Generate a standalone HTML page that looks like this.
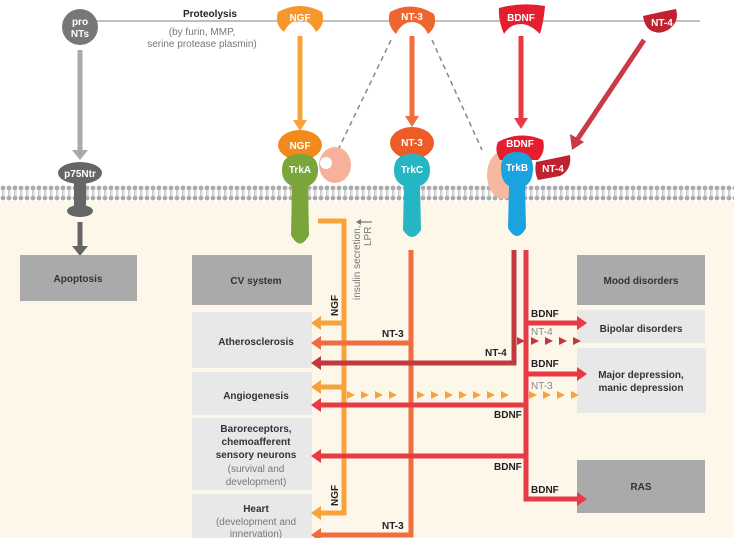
<!DOCTYPE html>
<html><head><meta charset="utf-8"><style>
body{margin:0;background:#fff;}
svg{display:block;font-family:"Liberation Sans",sans-serif;}
.b{font-weight:bold;font-size:10px;fill:#222;}
.w{font-weight:bold;font-size:10px;fill:#fff;text-anchor:middle;}
.bx{font-weight:bold;font-size:10px;fill:#333;text-anchor:middle;}
.g{font-size:10px;fill:#777;text-anchor:middle;}
</style></head><body>
<svg width="734" height="538" viewBox="0 0 734 538">
<defs>
<pattern id="mem" x="0" y="185" width="6" height="16" patternUnits="userSpaceOnUse">
<rect width="6" height="16" fill="#fff"/>
<circle cx="3" cy="3" r="2.4" fill="#aaa"/>
<circle cx="3" cy="13" r="2.4" fill="#aaa"/>
<rect x="2" y="4" width="0.8" height="8" fill="#bbb"/>
<rect x="3.6" y="4" width="0.8" height="8" fill="#bbb"/>
</pattern>
</defs>
<rect x="0" y="200" width="734" height="338" fill="#fdf7ea"/>
<rect x="0" y="185" width="734" height="16" fill="url(#mem)"/>
<line x1="95" y1="21" x2="700" y2="21" stroke="#aaa" stroke-width="1.5"/>
<circle cx="80" cy="27" r="18" fill="#777"/>
<text x="80" y="25" class="w">pro</text><text x="80" y="37" class="w">NTs</text>
<text x="183" y="17" class="b">Proteolysis</text>
<text x="202" y="35" class="g">(by furin, MMP,</text>
<text x="202" y="47" class="g">serine protease plasmin)</text>
<line x1="80" y1="50" x2="80" y2="152" stroke="#aaa" stroke-width="5"/>
<polygon points="72,150 88,150 80,160" fill="#aaa"/>
<ellipse cx="80" cy="173" rx="22" ry="11" fill="#666"/>
<text x="80" y="177" class="w">p75Ntr</text>
<rect x="74" y="180" width="12" height="28" fill="#666"/>
<ellipse cx="80" cy="211" rx="13" ry="6" fill="#666"/>
<line x1="80" y1="222" x2="80" y2="248" stroke="#666" stroke-width="5"/>
<polygon points="72,246 88,246 80,256" fill="#666"/>
<rect x="20" y="255" width="117" height="46" fill="#aaa"/>
<text x="78" y="282" class="bx">Apoptosis</text>
<line x1="338" y1="150" x2="392" y2="38" stroke="#888" stroke-width="1.5" stroke-dasharray="5,4"/>
<line x1="432" y1="40" x2="482" y2="150" stroke="#888" stroke-width="1.5" stroke-dasharray="5,4"/>
<path d="M278,12 Q300,0 322,12 Q326,24 316,32 Q310,20 300,20 Q290,20 284,32 Q274,24 278,12Z" fill="#f7962b"/>
<text x="300" y="21" class="w">NGF</text>
<path d="M390,12 Q412,0 434,14 Q438,26 428,34 Q422,22 412,22 Q402,22 396,34 Q386,24 390,12Z" fill="#ef6530"/>
<text x="412" y="20" class="w">NT-3</text>
<path d="M499,8 Q521,2 545,6 Q544,20 540,34 Q530,24 521,24 Q510,24 504,34 Q498,20 499,8Z" fill="#e41e2f"/>
<text x="521" y="21" class="w">BDNF</text>
<path d="M643,16 Q660,12 676,9 Q680,22 668,30 Q660,34 655,32 Q645,30 643,16Z" fill="#c0232f"/>
<text x="662" y="26" class="w">NT-4</text>
<line x1="300" y1="36" x2="300" y2="122" stroke="#f7a33b" stroke-width="5"/>
<polygon points="293,120 307,120 300,131" fill="#f7a33b"/>
<line x1="412" y1="36" x2="412" y2="118" stroke="#ef6e40" stroke-width="5"/>
<polygon points="405,116 419,116 412,127" fill="#ef6e40"/>
<line x1="521" y1="36" x2="521" y2="120" stroke="#e83a44" stroke-width="5"/>
<polygon points="514,118 528,118 521,129" fill="#e83a44"/>
<line x1="644" y1="40" x2="577" y2="140" stroke="#c93a44" stroke-width="5"/>
<polygon points="570,134 584,142 572,150" fill="#c93a44"/>
<ellipse cx="335" cy="165" rx="16" ry="18" fill="#f7b09a"/>
<circle cx="326" cy="163" r="6" fill="#fff"/>
<ellipse cx="300" cy="145" rx="22" ry="15" fill="#f28a1b"/>
<text x="300" y="149" class="w">NGF</text>
<path d="M282,170 Q282,154 300,154 Q318,154 318,170 Q318,182 308,186 L309,235 Q300,252 291,235 L292,186 Q282,182 282,170Z" fill="#79a53b"/>
<text x="300" y="173" class="w">TrkA</text>
<ellipse cx="412" cy="143" rx="22" ry="16" fill="#ed5b26"/>
<text x="412" y="146" class="w">NT-3</text>
<path d="M394,170 Q394,154 412,154 Q430,154 430,170 Q430,182 420,186 L421,230 Q412,244 403,230 L404,186 Q394,182 394,170Z" fill="#25b5c3"/>
<text x="412" y="173" class="w">TrkC</text>
<ellipse cx="503" cy="175" rx="16" ry="24" fill="#f6b8a0"/>
<path d="M498,142 Q520,130 543,140 Q546,152 538,160 L500,160 Q494,150 498,142Z" fill="#e41e2f"/>
<text x="520" y="147" class="w">BDNF</text>
<path d="M501,168 Q501,152 517,152 Q533,152 533,168 Q533,182 525,186 L526,228 Q517,244 508,228 L509,186 Q501,182 501,168Z" fill="#1ba3e0"/>
<text x="517" y="171" class="w">TrkB</text>
<path d="M536,162 Q556,158 570,155 Q572,170 560,176 L538,180 Q534,172 536,162Z" fill="#c0232f"/>
<text x="553" y="172" class="w">NT-4</text>
<g fill="#e8e8e8">
<rect x="192" y="312" width="120" height="56"/>
<rect x="192" y="372" width="120" height="43"/>
<rect x="192" y="418" width="120" height="72"/>
<rect x="192" y="494" width="120" height="44"/>
<rect x="577" y="310" width="128" height="33"/>
<rect x="577" y="348" width="129" height="65"/>
</g>
<g fill="#aaa">
<rect x="192" y="255" width="120" height="50"/>
<rect x="577" y="255" width="128" height="50"/>
<rect x="577" y="460" width="128" height="53"/>
</g>
<text x="256" y="284" class="bx">CV system</text>
<text x="256" y="345" class="bx">Atherosclerosis</text>
<text x="256" y="399" class="bx">Angiogenesis</text>
<text x="256" y="432" class="bx">Baroreceptors,</text>
<text x="256" y="445" class="bx">chemoafferent</text>
<text x="256" y="458" class="bx">sensory neurons</text>
<text x="256" y="472" class="g">(survival and</text>
<text x="256" y="485" class="g">development)</text>
<text x="256" y="512" class="bx">Heart</text>
<text x="256" y="525" class="g">(development and</text>
<text x="256" y="537" class="g">innervation)</text>
<text x="641" y="284" class="bx">Mood disorders</text>
<text x="641" y="332" class="bx">Bipolar disorders</text>
<text x="641" y="378" class="bx">Major depression,</text>
<text x="641" y="391" class="bx">manic depression</text>
<text x="641" y="490" class="bx">RAS</text>
<path d="M318,221 L344,221 L344,513 L320,513" fill="none" stroke="#f7a33b" stroke-width="5"/>
<line x1="344" y1="323" x2="320" y2="323" stroke="#f7a33b" stroke-width="5"/>
<line x1="344" y1="387" x2="320" y2="387" stroke="#f7a33b" stroke-width="5"/>
<polygon points="311,323 321,316 321,330" fill="#f7a33b"/>
<polygon points="311,387 321,380 321,394" fill="#f7a33b"/>
<polygon points="311,513 321,506 321,520" fill="#f7a33b"/>
<path d="M411,250 L411,535 L320,535" fill="none" stroke="#ef6e40" stroke-width="5"/>
<line x1="411" y1="343" x2="320" y2="343" stroke="#ef6e40" stroke-width="5"/>
<polygon points="311,343 321,336 321,350" fill="#ef6e40"/>
<polygon points="311,535 321,528 321,542" fill="#ef6e40"/>
<g fill="#f7a33b">
<polygon points="347,391 355,395 347,399"/><polygon points="361,391 369,395 361,399"/><polygon points="375,391 383,395 375,399"/><polygon points="389,391 397,395 389,399"/><polygon points="417,391 425,395 417,399"/><polygon points="431,391 439,395 431,399"/><polygon points="445,391 453,395 445,399"/><polygon points="459,391 467,395 459,399"/><polygon points="473,391 481,395 473,399"/><polygon points="487,391 495,395 487,399"/><polygon points="501,391 509,395 501,399"/><polygon points="529,391 537,395 529,399"/><polygon points="543,391 551,395 543,399"/><polygon points="557,391 565,395 557,399"/><polygon points="571,391 579,395 571,399"/>
</g>
<path d="M514,250 L514,363 L320,363" fill="none" stroke="#c0393f" stroke-width="5"/>
<polygon points="311,363 321,356 321,370" fill="#c0393f"/>
<g fill="#c0393f">
<polygon points="517,337 525,341 517,345"/><polygon points="531,337 539,341 531,345"/><polygon points="545,337 553,341 545,345"/><polygon points="559,337 567,341 559,345"/><polygon points="573,337 581,341 573,345"/>
</g>
<path d="M526,250 L526,499 L580,499" fill="none" stroke="#e83a44" stroke-width="5"/>
<line x1="526" y1="323" x2="580" y2="323" stroke="#e83a44" stroke-width="5"/>
<line x1="526" y1="374" x2="580" y2="374" stroke="#e83a44" stroke-width="5"/>
<line x1="526" y1="405" x2="320" y2="405" stroke="#e83a44" stroke-width="5"/>
<line x1="526" y1="456" x2="320" y2="456" stroke="#e83a44" stroke-width="5"/>
<polygon points="587,323 577,316 577,330" fill="#e83a44"/>
<polygon points="587,374 577,367 577,381" fill="#e83a44"/>
<polygon points="587,499 577,492 577,506" fill="#e83a44"/>
<polygon points="311,405 321,398 321,412" fill="#e83a44"/>
<polygon points="311,456 321,449 321,463" fill="#e83a44"/>
<text class="b" transform="translate(338,316) rotate(-90)">NGF</text>
<text class="b" transform="translate(338,506) rotate(-90)">NGF</text>
<text transform="translate(360,300) rotate(-90)" style="font-size:10px;fill:#777">insulin secretion,</text>
<text transform="translate(371,246) rotate(-90)" style="font-size:10px;fill:#777">LPR</text>
<line x1="358" y1="222" x2="372" y2="222" stroke="#777" stroke-width="1.2"/>
<polygon points="356,222 361,219 361,225" fill="#777"/>
<text x="382" y="337" class="b">NT-3</text>
<text x="382" y="529" class="b">NT-3</text>
<text x="485" y="356" class="b">NT-4</text>
<text x="531" y="317" class="b">BDNF</text>
<text x="531" y="335" style="font-size:10px;fill:#888">NT-4</text>
<text x="531" y="367" class="b">BDNF</text>
<text x="531" y="389" style="font-size:10px;fill:#888">NT-3</text>
<text x="494" y="418" class="b">BDNF</text>
<text x="494" y="470" class="b">BDNF</text>
<text x="531" y="493" class="b">BDNF</text>
</svg>
</body></html>
